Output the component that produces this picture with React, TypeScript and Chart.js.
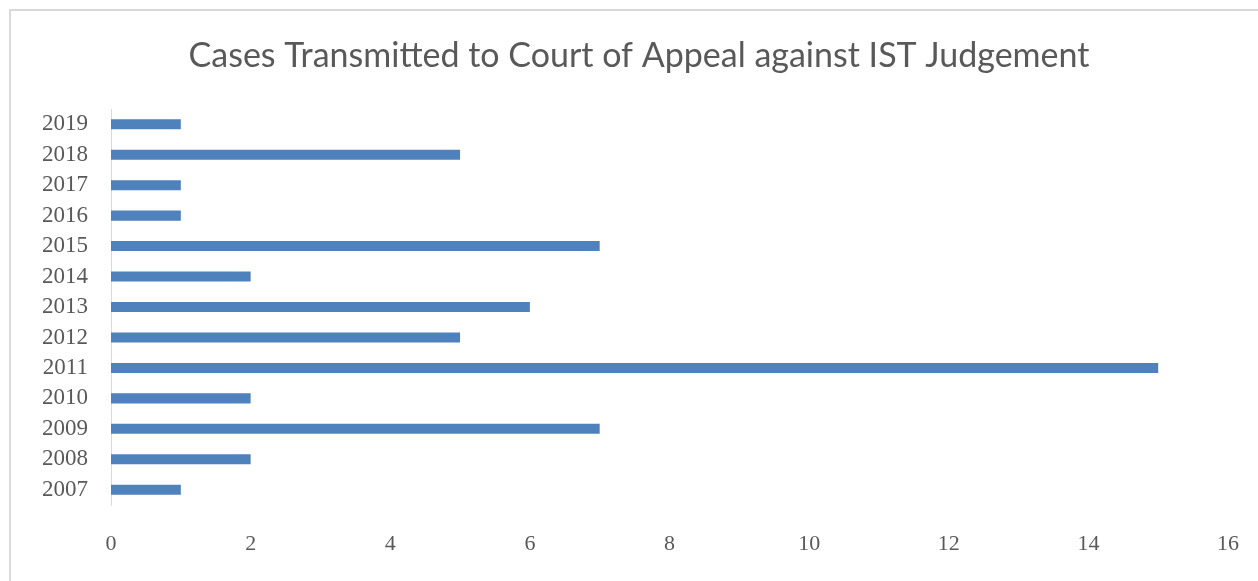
import React, { useEffect, useRef } from "react";
import { Chart, registerables } from "chart.js";

Chart.register(...registerables);

const TITLE = "Cases Transmitted to Court of Appeal against IST Judgement";
const years = ["2007", "2008", "2009", "2010", "2011", "2012", "2013", "2014", "2015", "2016", "2017", "2018", "2019"];
const cases = [1, 2, 7, 2, 15, 5, 6, 2, 7, 1, 1, 5, 1];
const xMin = 0;
const xMax = 16;
const xStep = 2;

const titlePlugin = {
  id: "customTitle",
  afterDraw(chart: any) {
    const ctx = chart.ctx;
    ctx.save();
    ctx.fillStyle = "#595959";
    ctx.font = "normal 34px Lato";
    ctx.textAlign = "center";
    ctx.textBaseline = "middle";
    ctx.fillText(TITLE, 639, 56);
    ctx.restore();
  },
};

export default function App() {
  const ref = useRef<HTMLCanvasElement>(null);
  useEffect(() => {
    if (!ref.current) return;
    const chart = new Chart(ref.current, {
      type: "bar",
      data: {
        labels: years,
        datasets: [
          {
            label: "Cases",
            data: cases,
            backgroundColor: "#4f81bd",
            borderWidth: 0,
            categoryPercentage: 1,
            barPercentage: 0.33,
          },
        ],
      },
      plugins: [titlePlugin],
      options: {
        indexAxis: "y",
        animation: false,
        responsive: false,
        maintainAspectRatio: false,
        layout: { padding: { left: 0, right: 30, top: 109, bottom: 0 } },
        plugins: {
          legend: { display: false },
          tooltip: { enabled: false },
          title: { display: false },
        },
        scales: {
          x: {
            min: xMin,
            max: xMax,
            ticks: {
              stepSize: xStep,
              color: "#595959",
              font: { family: "Liberation Serif", size: 22 },
              padding: 26,
              maxRotation: 0,
            },
            grid: { display: false, drawTicks: false },
            border: { display: false },
            afterFit: (s: any) => {
              s.height = 76;
              s.paddingLeft = 0;
              s.paddingRight = 0;
            },
          },
          y: {
            reverse: true,
            ticks: {
              color: "#595959",
              font: { family: "Liberation Serif", size: 23 },
              padding: 23,
              autoSkip: false,
            },
            grid: { display: false, drawTicks: false },
            border: { display: true, color: "#d9d9d9", width: 1 },
            afterFit: (s: any) => {
              s.width = 111;
            },
          },
        },
      },
    });
    return () => chart.destroy();
  }, []);
  return (
    <div
      style={{
        position: "absolute",
        left: 0,
        top: 0,
        width: 1258,
        height: 581,
        overflow: "hidden",
        background: "#fff",
      }}
    >
      <div
        style={{
          position: "absolute",
          left: 9,
          top: 9,
          width: 1400,
          height: 800,
          border: "2px solid #d9d9d9",
        }}
      />
      <canvas ref={ref} width={1258} height={581} style={{ position: "absolute", left: 0, top: 0 }} />
    </div>
  );
}
